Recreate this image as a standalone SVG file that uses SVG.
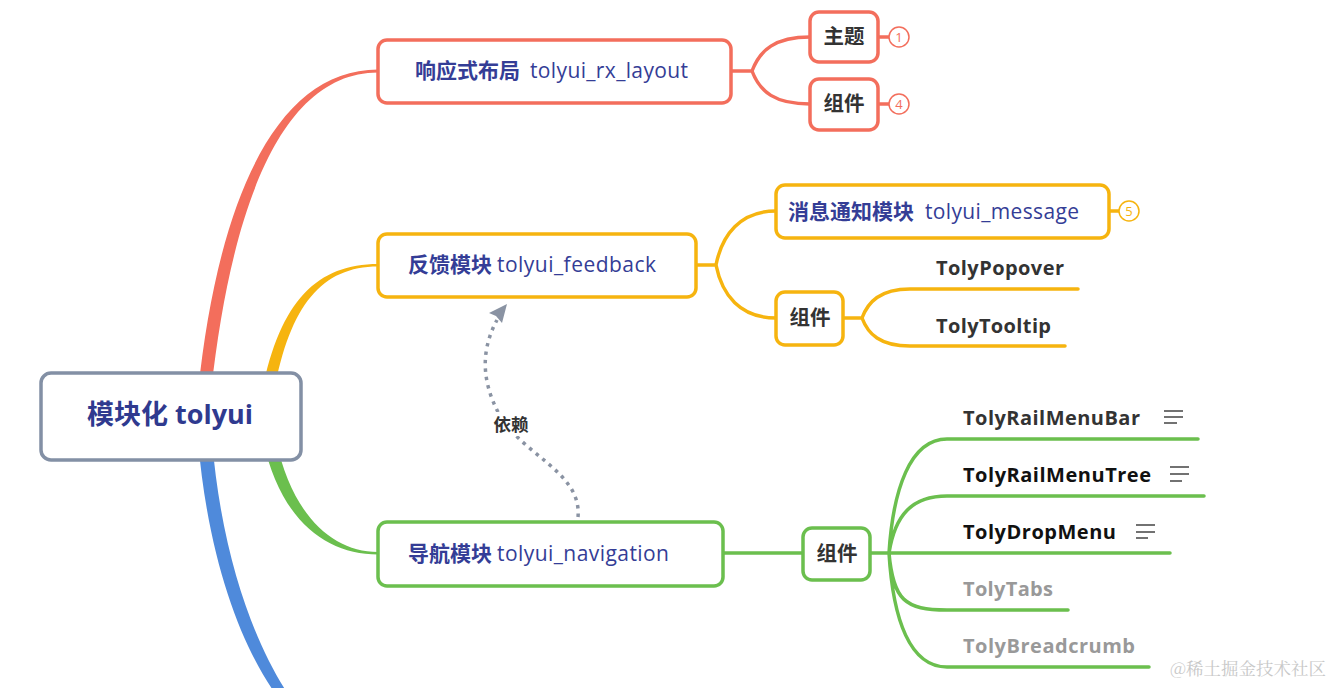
<svg xmlns="http://www.w3.org/2000/svg" width="1333" height="688" viewBox="0 0 1333 688">
<style>
.txt{font-family:"Open Sans","Noto Sans CJK SC",sans-serif}
.title{font-size:21px;fill:#343D96}
.b{font-weight:bold}
.node{fill:#fff;stroke-width:3.5}
.red{stroke:#F36E5C}
.org{stroke:#F6B40F}
.grn{stroke:#6BBF4E}
.line{fill:none;stroke-width:3.5;stroke-linecap:round}
.leaf{font-size:20px;font-weight:bold}
.sub{font-size:20.5px;font-weight:bold;fill:#333}
.num{font-family:"Open Sans",sans-serif;font-size:13px;text-anchor:middle}
</style>
<rect width="1333" height="688" fill="#fff"/>
<g id="connectors">
<path d="M198 392 C218 200 276 69.5 378 69.5 L378 72.5 C284 72.5 232 200 211 392 Z" fill="#F36E5C"/>
<path d="M262 392 C280 300 318 264 378 264 L378 266.5 C322 266.5 290 305 274 392 Z" fill="#F6B40F"/>
<path d="M263 440 C280 520 326 554.5 378 554.5 L378 552 C332 552 292 515 276 440 Z" fill="#6BBF4E"/>
<path d="M198 440 C208 560 242 650 280 700 L292 700 C256 648 222 560 212 440 Z" fill="#4F8ADB"/>
<path class="line red" d="M731 71 H752 C760 50 775 37 810 37 M752 71 C760 92 775 104 810 104"/>
<path class="line red" d="M878 37 H889 M878 104 H889" stroke-width="2.5"/>
<path class="line org" d="M696 265 H716 C722 235 740 211 776 211 M716 265 C722 295 740 318 776 318"/>
<path class="line org" d="M1109 211 H1119" stroke-width="2.5"/>
<path class="line org" d="M843 318 H862 C868 302 880 289 910 289 H1078 M862 318 C868 334 880 346 910 346 H1065"/>
<path class="line grn" d="M723 553 H803"/>
<path class="line grn" d="M870 553 H1170 M889 553 C893 490 910 439 947 439 H1198 M889 553 C895 515 912 496 947 496 H1204 M889 553 C893 600 905 610 947 610 H1068 M889 553 C893 620 910 667 947 667 H1149"/>
<path d="M578 517 C582 472 522 455 499 414 C480 378 482 348 497 320" fill="none" stroke="#8A93A3" stroke-width="3.5" stroke-dasharray="3.5 5"/>
<path d="M507 304 L489 313 L496 316 L502 323 Z" fill="#8A93A3"/>
</g>
<g id="root">
<rect x="41" y="373" width="260" height="87" rx="10" fill="#fff" stroke="#8390A5" stroke-width="3.5"/>
<text class="txt b" x="170" y="424" font-size="27" fill="#2F3A8F" text-anchor="middle">模块化 tolyui</text>
</g>
<g id="n-layout">
<rect class="node red" x="378" y="40" width="353" height="63" rx="9"/>
<text class="txt title" y="78"><tspan x="415" class="b">响应式布局</tspan><tspan x="530" textLength="158" lengthAdjust="spacing">tolyui_rx_layout</tspan></text>
</g>
<g id="n-theme">
<rect class="node red" x="810" y="12" width="68" height="50" rx="9"/>
<text class="txt sub" x="844" y="44" text-anchor="middle">主题</text>
<circle cx="899" cy="37" r="10" fill="#fff" stroke="#F36E5C" stroke-width="1.5"/>
<text class="num" x="899" y="42" fill="#F36E5C">1</text>
</g>
<g id="n-comp1">
<rect class="node red" x="810" y="79" width="68" height="51" rx="9"/>
<text class="txt sub" x="844" y="111" text-anchor="middle">组件</text>
<circle cx="899" cy="104" r="10" fill="#fff" stroke="#F36E5C" stroke-width="1.5"/>
<text class="num" x="899" y="109" fill="#F36E5C">4</text>
</g>
<g id="n-feedback">
<rect class="node org" x="378" y="234" width="318" height="63" rx="9"/>
<text class="txt title" y="272"><tspan x="408" class="b">反馈模块</tspan><tspan x="497" textLength="159" lengthAdjust="spacing">tolyui_feedback</tspan></text>
</g>
<g id="n-message">
<rect class="node org" x="776" y="185" width="333" height="53" rx="9"/>
<text class="txt title" y="219"><tspan x="788" class="b">消息通知模块</tspan><tspan x="925" textLength="154" lengthAdjust="spacing">tolyui_message</tspan></text>
<circle cx="1129" cy="211" r="10" fill="#fff" stroke="#F6B40F" stroke-width="1.5"/>
<text class="num" x="1129" y="216" fill="#F6B40F">5</text>
</g>
<g id="n-comp2">
<rect class="node org" x="776" y="292" width="67" height="53" rx="9"/>
<text class="txt sub" x="810" y="325" text-anchor="middle">组件</text>
</g>
<g id="n-popover"><text class="txt leaf" x="936" y="275" fill="#333" textLength="128" lengthAdjust="spacing">TolyPopover</text></g>
<g id="n-tooltip"><text class="txt leaf" x="936" y="333" fill="#333" textLength="115" lengthAdjust="spacing">TolyTooltip</text></g>
<g id="n-nav">
<rect class="node grn" x="378" y="522" width="345" height="64" rx="9"/>
<text class="txt title" y="561"><tspan x="408" class="b">导航模块</tspan><tspan x="497" textLength="172" lengthAdjust="spacing">tolyui_navigation</tspan></text>
</g>
<g id="n-comp3">
<rect class="node grn" x="803" y="528" width="67" height="52" rx="9"/>
<text class="txt sub" x="837" y="561" text-anchor="middle">组件</text>
</g>
<g id="n-railbar">
<text class="txt leaf" x="963" y="425" fill="#333" textLength="177" lengthAdjust="spacing">TolyRailMenuBar</text>
<path d="M1164 411 H1183 M1164 417 H1183 M1164 423 H1177" stroke="#444" stroke-width="1.6"/>
</g>
<g id="n-railtree">
<text class="txt leaf" x="963" y="482" fill="#111" textLength="188" lengthAdjust="spacing">TolyRailMenuTree</text>
<path d="M1170 467 H1189 M1170 474 H1189 M1170 481 H1182" stroke="#444" stroke-width="1.6"/>
</g>
<g id="n-drop">
<text class="txt leaf" x="963" y="539" fill="#111" textLength="153" lengthAdjust="spacing">TolyDropMenu</text>
<path d="M1136 525 H1155 M1136 532 H1155 M1136 538 H1148" stroke="#444" stroke-width="1.6"/>
</g>
<g id="n-tabs"><text class="txt leaf" x="963" y="596" fill="#999" textLength="90" lengthAdjust="spacing">TolyTabs</text></g>
<g id="n-bread"><text class="txt leaf" x="963" y="653" fill="#999" textLength="172" lengthAdjust="spacing">TolyBreadcrumb</text></g>
<g id="dep-label">
<rect x="489" y="412" width="44" height="24" fill="#fff"/>
<text class="txt" x="511" y="431" font-size="17.5" font-weight="bold" fill="#333" text-anchor="middle">依赖</text>
</g>
<text x="1326" y="675" font-family="'Noto Serif CJK SC','Noto Sans CJK SC',serif" font-size="17.5" fill="#C8C8C8" text-anchor="end">@稀土掘金技术社区</text>
</svg>
